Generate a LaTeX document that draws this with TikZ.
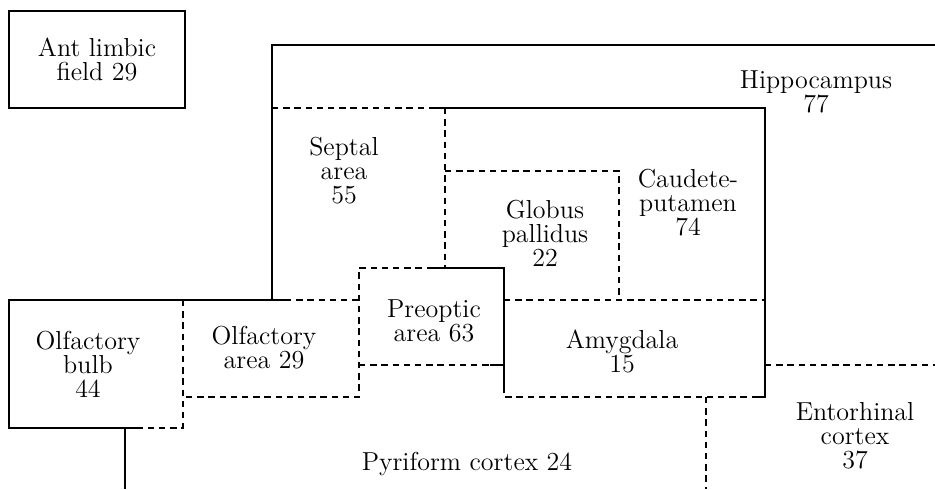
\documentclass[tikz,border=0pt]{standalone}
\usepackage{fontspec}
\begin{document}
\begin{tikzpicture}[x=0.5pt, y=-0.5pt, font=\fontsize{13}{12}\selectfont]
    \tikzstyle{wall} = [line width=1.3pt]
    \tikzstyle{border} = [line width=0.8pt, dash pattern=on 3.2pt off 2.4pt]
    \tikzstyle{area} = [align=center, inner sep=0pt]
    \tikzstyle{block} = [draw, wall, area, minimum width=88pt, minimum height=48.5pt]
    \useasboundingbox (0,0) rectangle (935,489);
    \node [block] (antlimbic) at (97,59.5) {Ant limbic\\field 29};
    \draw [wall] (935,45) -- (272,45) -- (272,300);
    \draw [wall] (285,300) -- (9,300) -- (9,428) -- (140,428);
    \draw [wall] (125,428) -- (125,489);
    \draw [wall] (433,108) -- (765,108) -- (765,397) -- (753,397);
    \draw [wall] (433,268) -- (504,268) -- (504,387);
    \draw [wall] (490,365) -- (504,365);
    \draw [border] (272,108) -- (433,108);
    \draw [border] (445,108) -- (445,268);
    \draw [border] (445,171) -- (619,171) -- (619,300);
    \draw [border] (504,300) -- (765,300);
    \draw [border] (433,268) -- (359,268) -- (359,397) -- (183,397);
    \draw [border] (285,300) -- (359,300);
    \draw [border] (359,365) -- (490,365);
    \draw [border] (183,300) -- (183,428) -- (140,428);
    \draw [border] (504,387) -- (504,397) -- (753,397);
    \draw [border] (706,397) -- (706,489);
    \draw [border] (765,365) -- (935,365);
    \node [area] (hippocampus) at (816,91.5) {Hippocampus\\77};
    \node [area] (septal) at (344,171) {Septal\\area\\55};
    \node [area] (globus) at (545,233.5) {Globus\\pallidus\\22};
    \node [area] (caudete) at (688,203) {Caudete-\\putamen\\74};
    \node [area] (preoptic) at (434,320.5) {Preoptic\\area 63};
    \node [area] (olfarea) at (264,347.5) {Olfactory\\area 29};
    \node [area] (olfbulb) at (88,364.5) {Olfactory\\bulb\\44};
    \node [area] (amygdala) at (622,351.5) {Amygdala\\15};
    \node [area] (pyriform) at (467,463.5) {Pyriform cortex 24};
    \node [area] (entorhinal) at (855,436) {Entorhinal\\cortex\\37};
\end{tikzpicture}
\end{document}
